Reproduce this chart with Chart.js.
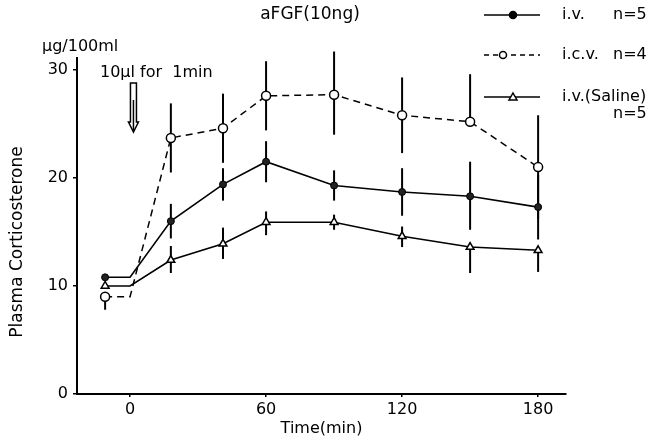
<!DOCTYPE html>
<html>
  <head>
    <meta charset="UTF-8">
    <title>aFGF Plasma Corticosterone</title>
    <script src="https://cdn.jsdelivr.net/npm/chart.js"></script>
    <style>
      body { margin: 0; background: #fff; }
      #wrap { width: 655px; height: 438px; }
    </style>
  </head>
  <body>
    <div id="wrap"><canvas id="cortChart" width="655" height="438"></canvas></div>
    <script>
      // time points (min); 0 is only the bend in the baseline, no marker there
      const times = [-11, 0, 18, 41, 60, 90, 120, 150, 180];
      const xTicks = [0, 60, 120, 180];
      const yTicks = [0, 10, 20, 30];

      const ivMean = [10.8, 10.8, 16.0, 19.4, 21.5, 19.3, 18.7, 18.3, 17.3];
      const ivErrUp = [0, 0, 1.6, 1.5, 1.9, 1.4, 2.2, 3.2, 3.0];
      const ivErrDown = [0, 0, 1.6, 1.5, 1.9, 1.4, 2.2, 3.1, 3.0];

      const icvMean = [9.0, 9.0, 23.7, 24.6, 27.6, 27.7, 25.8, 25.2, 21.0];
      const icvErrUp = [0, 0, 3.2, 3.2, 3.2, 4.0, 3.5, 4.4, 4.8];
      const icvErrDown = [1.2, 0, 3.2, 3.2, 3.2, 3.7, 3.5, 0, 4.8];

      const salMean = [10.0, 10.0, 12.4, 13.9, 15.9, 15.9, 14.6, 13.6, 13.3];
      const salErrUp = [0, 0, 1.3, 1.5, 1.0, 0.7, 0.9, 0, 0];
      const salErrDown = [0, 0, 1.2, 1.4, 1.2, 0.7, 1.0, 2.4, 2.0];

      const FONT = '"DejaVu Sans", sans-serif';

      const toPoints = arr => arr.map((v, i) => ({ x: times[i], y: v }));
      const radii = r => times.map(t => (t === 0 ? 0 : r));

      // vertical error bars, drawn under the markers
      const errorBars = {
        id: 'errorBars',
        beforeDatasetsDraw(chart) {
          const { ctx, scales: { x, y } } = chart;
          ctx.save();
          ctx.strokeStyle = '#000';
          ctx.lineWidth = 2;
          chart.data.datasets.forEach(ds => {
            ds.data.forEach((p, i) => {
              const up = ds.errUp[i], down = ds.errDown[i];
              if (!up && !down) return;
              const px = x.getPixelForValue(p.x);
              ctx.beginPath();
              ctx.moveTo(px, y.getPixelForValue(p.y + up));
              ctx.lineTo(px, y.getPixelForValue(p.y - down));
              ctx.stroke();
            });
          });
          ctx.restore();
        }
      };

      // labels, arrow and the hand-drawn style legend
      const extras = {
        id: 'extras',
        afterDraw(chart) {
          const { ctx, scales: { x, y } } = chart;
          ctx.save();
          ctx.fillStyle = '#000';
          ctx.strokeStyle = '#000';
          ctx.textBaseline = 'middle';

          ctx.font = '17px ' + FONT;
          ctx.textAlign = 'center';
          ctx.fillText('aFGF(10ng)', 310, 15);

          ctx.font = '16px ' + FONT;
          ctx.textAlign = 'left';
          ctx.fillText('\u03bcg/100ml', 42, 47);
          ctx.fillText('10\u03bcl for  1min', 100, 73);

          // y title
          ctx.save();
          ctx.translate(18, 242);
          ctx.rotate(-Math.PI / 2);
          ctx.textAlign = 'center';
          ctx.font = '17px ' + FONT;
          ctx.fillText('Plasma Corticosterone', 0, 0);
          ctx.restore();

          // injection arrow at time 0
          const ax = x.getPixelForValue(1.5);
          ctx.lineWidth = 1.5;
          ctx.beginPath();
          ctx.moveTo(ax - 3, 83); ctx.lineTo(ax - 3, 122);
          ctx.lineTo(ax - 5, 122); ctx.lineTo(ax, 132); ctx.lineTo(ax + 5, 122);
          ctx.lineTo(ax + 3, 122); ctx.lineTo(ax + 3, 83); ctx.closePath();
          ctx.stroke();
          ctx.beginPath();
          ctx.moveTo(ax, 100); ctx.lineTo(ax, 130);
          ctx.stroke();

          // legend
          const rows = [
            { y: 15, dash: [], style: 'fill', label: 'i.v.', n: 'n=5' },
            { y: 55, dash: [5, 4], style: 'open', label: 'i.c.v.', n: 'n=4' },
            { y: 97, dash: [], style: 'tri', label: 'i.v.(Saline)', n: null }
          ];
          rows.forEach(r => {
            ctx.lineWidth = 1.5;
            ctx.setLineDash(r.dash);
            ctx.beginPath();
            ctx.moveTo(484, r.y); ctx.lineTo(540, r.y);
            ctx.stroke();
            ctx.setLineDash([]);
            const mx = r.style === 'open' ? 503 : 513;
            ctx.beginPath();
            if (r.style === 'tri') {
              ctx.moveTo(mx, r.y - 4); ctx.lineTo(mx + 4, r.y + 3); ctx.lineTo(mx - 4, r.y + 3); ctx.closePath();
              ctx.fillStyle = '#fff'; ctx.fill(); ctx.stroke();
            } else {
              ctx.arc(mx, r.y, r.style === 'open' ? 3.5 : 3.5, 0, Math.PI * 2);
              ctx.fillStyle = r.style === 'open' ? '#fff' : '#000';
              ctx.fill(); ctx.stroke();
            }
            ctx.fillStyle = '#000';
            ctx.font = '16px ' + FONT;
            ctx.fillText(r.label, 562, r.y);
            if (r.n) ctx.fillText(r.n, 613, r.y);
          });
          ctx.fillText('n=5', 613, 114);
          ctx.restore();
        }
      };

      new Chart(document.getElementById('cortChart'), {
        type: 'line',
        data: {
          datasets: [
            {
              label: 'i.v.',
              data: toPoints(ivMean),
              errUp: ivErrUp, errDown: ivErrDown,
              borderColor: '#000', borderWidth: 1.6,
              pointStyle: 'circle', pointRadius: radii(3.5),
              pointBackgroundColor: '#222', pointBorderColor: '#000', pointBorderWidth: 1
            },
            {
              label: 'i.c.v.',
              data: toPoints(icvMean),
              errUp: icvErrUp, errDown: icvErrDown,
              borderColor: '#000', borderWidth: 1.5, borderDash: [7, 5],
              pointStyle: 'circle', pointRadius: radii(4.5),
              pointBackgroundColor: '#fff', pointBorderColor: '#000', pointBorderWidth: 1.5
            },
            {
              label: 'i.v.(Saline)',
              data: toPoints(salMean),
              errUp: salErrUp, errDown: salErrDown,
              borderColor: '#000', borderWidth: 1.6,
              pointStyle: 'triangle', pointRadius: radii(4.5),
              pointBackgroundColor: '#fff', pointBorderColor: '#000', pointBorderWidth: 1.5
            }
          ]
        },
        options: {
          responsive: false,
          animation: false,
          layout: { padding: { top: 58, right: 89, left: 0, bottom: 0 } },
          plugins: {
            legend: { display: false },
            tooltip: { enabled: false }
          },
          scales: {
            x: {
              type: 'linear',
              min: -23.4,
              max: 192.3,
              afterBuildTicks: s => { s.ticks = xTicks.map(v => ({ value: v })); },
              afterFit: s => { s.height = 44; },
              grid: { display: true, drawOnChartArea: false, tickLength: 3, color: '#000', lineWidth: 1.5 },
              border: { display: true, color: '#000', width: 2 },
              ticks: { color: '#000', padding: 3, font: { family: FONT, size: 16 }, maxRotation: 0 },
              title: {
                display: true, text: 'Time(min)', color: '#000',
                font: { family: FONT, size: 16 }, padding: { top: 0, bottom: 0 }
              }
            },
            y: {
              type: 'linear',
              min: 0,
              max: 31.1,
              afterBuildTicks: s => { s.ticks = yTicks.map(v => ({ value: v })); },
              afterFit: s => { s.width = 77; },
              grid: { display: true, drawOnChartArea: false, tickLength: 4, color: '#000', lineWidth: 1.5 },
              border: { display: true, color: '#000', width: 2 },
              ticks: { color: '#000', padding: 5, font: { family: FONT, size: 16 } }
            }
          }
        },
        plugins: [errorBars, extras]
      });
    </script>
  </body>
</html>
